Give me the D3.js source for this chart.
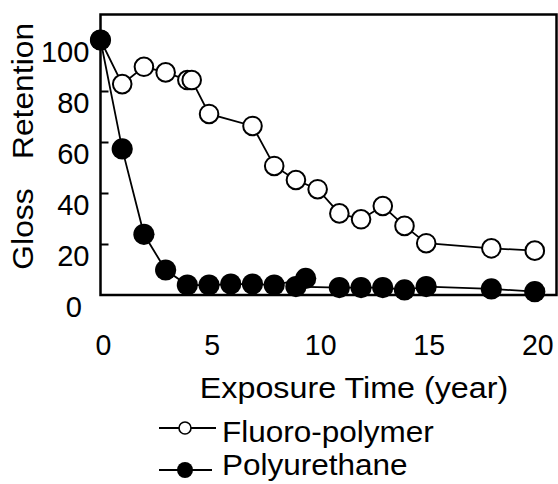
<!DOCTYPE html>
<html>
<head>
<meta charset="utf-8">
<script src="https://cdn.jsdelivr.net/npm/d3@7"></script>
<style>
  html, body { margin: 0; padding: 0; background: #fff; }
  svg { display: block; }
  text { font-family: "Liberation Sans", Arial, sans-serif; fill: #000; }
</style>
</head>
<body>
<div id="chart"></div>
<script>
// ---- data ----
const fluoroYears  = [0, 1, 2, 3, 4.0, 4.2, 5, 7, 8, 9, 10, 11, 12, 13, 14, 15, 18, 20];
const fluoroValues = [100, 82.7, 89.5, 87.3, 84.3, 84.3, 71.0, 66.3, 50.6, 45.1, 41.5, 32.0, 29.7, 34.9, 27.1, 20.3, 18.3, 17.4];

const polyYears  = [0, 1, 2, 3, 4, 5, 6, 7, 8, 9.45, 9, 11, 12, 13, 14, 15, 18, 20];
const polyValues = [100, 57.3, 23.8, 9.8, 3.9, 3.9, 4.3, 4.3, 3.9, 6.5, 3.3, 2.9, 2.9, 2.9, 2.0, 3.3, 2.4, 1.3];

const xTicks = [0, 5, 10, 15, 20];
const yTicks = [0, 20, 40, 60, 80, 100];
const seriesNames = ["Fluoro-polymer", "Polyurethane"];
const xTitle = "Exposure Time (year)";
const yTitleWords = ["Gloss", "Retention"];

// ---- layout ----
const W = 558, H = 484;
const FS = 30;
const svg = d3.select("#chart").append("svg").attr("width", W).attr("height", H);

const x = d3.scaleLinear().domain([0, 21]).range([100.5, 556.5]);
const y = d3.scaleLinear().domain([0, 110]).range([295, 14.5]);

function stretch(sel, f) {
  sel.each(function () {
    const len = this.getComputedTextLength();
    d3.select(this).attr("textLength", len * f).attr("lengthAdjust", "spacingAndGlyphs");
  });
}

// y axis ticks (inside), labels drawn separately
const yAxis = d3.axisLeft(y).tickValues(yTicks.filter(v => v > 0)).tickSizeInner(-8).tickSizeOuter(0).tickFormat("");
const gy = svg.append("g").attr("transform", `translate(${x(0)},0)`).call(yAxis);
gy.select(".domain").remove();
gy.selectAll(".tick line").attr("stroke", "#000").attr("stroke-width", 2);

// y tick labels
svg.append("g").selectAll("text").data(yTicks).join("text")
  .attr("x", d => d === 0 ? 82 : 89.5)
  .attr("y", d => y(d) + 11)
  .attr("dy", "0.35em")
  .attr("text-anchor", "end")
  .attr("font-size", FS)
  .text(d => d)
  .call(stretch, 0.97);

// x tick labels
svg.append("g").selectAll("text").data(xTicks).join("text")
  .attr("x", d => x(d) + 3)
  .attr("y", 355)
  .attr("text-anchor", "middle")
  .attr("font-size", FS)
  .text(d => d)
  .call(stretch, 0.95);

// x title
svg.append("text")
  .attr("x", 354).attr("y", 398)
  .attr("text-anchor", "middle")
  .attr("font-size", FS)
  .text(xTitle)
  .call(stretch, 1.075);

// y title (two words, wide gap)
const yTitleCenters = [229, 91];
svg.append("g").selectAll("text").data(yTitleWords).join("text")
  .attr("transform", (d, i) => `translate(33,${yTitleCenters[i]}) rotate(-90)`)
  .attr("text-anchor", "middle")
  .attr("font-size", FS)
  .text(d => d)
  .call(stretch, 1.06);

// frame
svg.append("rect")
  .attr("x", x(0)).attr("y", y(110))
  .attr("width", x(21) - x(0)).attr("height", y(0) - y(110))
  .attr("fill", "none").attr("stroke", "#000").attr("stroke-width", 2.5);

const line = d3.line().x(d => x(d[0])).y(d => y(d[1]));

const fluoro = fluoroYears.map((v, i) => [v, fluoroValues[i]]);
const poly = polyYears.map((v, i) => [v, polyValues[i]]);

// fluoro series
svg.append("path").datum(fluoro).attr("d", line)
  .attr("fill", "none").attr("stroke", "#000").attr("stroke-width", 1.8);
svg.append("g").selectAll("circle").data(fluoro).join("circle")
  .attr("cx", d => x(d[0])).attr("cy", d => y(d[1])).attr("r", 9.3)
  .attr("fill", "#fff").attr("stroke", "#000").attr("stroke-width", 2);

// polyurethane series
svg.append("path").datum(poly).attr("d", line)
  .attr("fill", "none").attr("stroke", "#000").attr("stroke-width", 1.8);
svg.append("g").selectAll("circle").data(poly).join("circle")
  .attr("cx", d => x(d[0])).attr("cy", d => y(d[1])).attr("r", 10.6)
  .attr("fill", "#000");

// legend
const legendRows = [
  { name: seriesNames[0], lineY: 428, textY: 442, x2: 216, filled: false },
  { name: seriesNames[1], lineY: 470, textY: 475, x2: 212, filled: true }
];
const lg = svg.append("g");
lg.selectAll("line").data(legendRows).join("line")
  .attr("x1", 159).attr("x2", d => d.x2)
  .attr("y1", d => d.lineY).attr("y2", d => d.lineY)
  .attr("stroke", "#000").attr("stroke-width", 2);
lg.selectAll("circle").data(legendRows).join("circle")
  .attr("cx", 185).attr("cy", d => d.lineY)
  .attr("r", d => d.filled ? 8 : 6)
  .attr("fill", d => d.filled ? "#000" : "#fff")
  .attr("stroke", "#000").attr("stroke-width", d => d.filled ? 0 : 1.6);
lg.selectAll("text").data(legendRows).join("text")
  .attr("x", 222).attr("y", d => d.textY)
  .attr("font-size", FS)
  .text(d => d.name)
  .call(stretch, 1.05);
</script>
</body>
</html>
